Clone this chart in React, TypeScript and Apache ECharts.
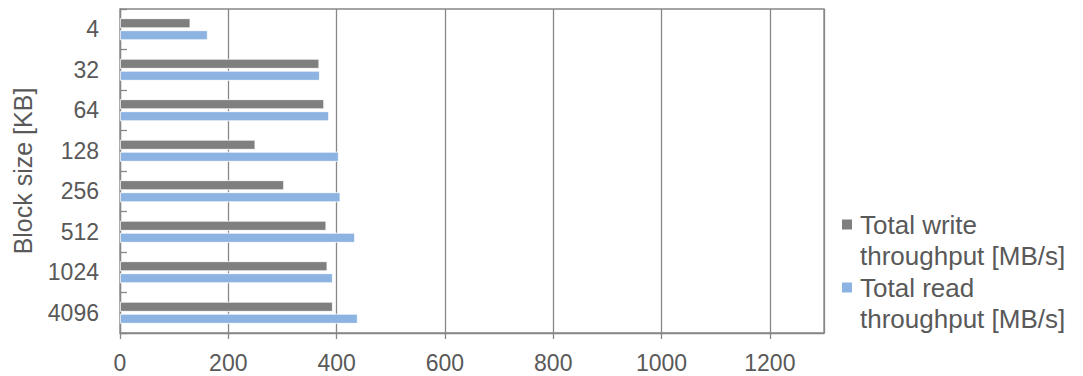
import React, { useEffect, useRef } from "react";
import * as echarts from "echarts";

const categories = ["4", "32", "64", "128", "256", "512", "1024", "4096"];
const writeThroughput = [130, 368, 377, 250, 303, 381, 383, 393];
const readThroughput = [162, 369, 386, 404, 407, 434, 393, 439];
const seriesNames = ["Total write\nthroughput [MB/s]", "Total read\nthroughput [MB/s]"];

const GRAY = "#878787";
const TEXT = "#595959";

export default function App() {
  const ref = useRef<HTMLDivElement>(null);
  useEffect(() => {
    const chart = echarts.init(ref.current!, null, { renderer: "svg" });
    chart.setOption({
      animation: false,
      backgroundColor: "#ffffff",
      textStyle: { fontFamily: "Liberation Sans, Arial, sans-serif" },
      grid: {
        left: 120,
        top: 9,
        right: 259,
        bottom: 43,
        show: true,
        borderColor: GRAY,
        borderWidth: 1.3,
        containLabel: false,
      },
      legend: {
        orient: "vertical",
        left: 842,
        top: 209,
        padding: 0,
        itemWidth: 10,
        itemHeight: 41,
        itemGap: 1,
        icon: "path://M0 0H10V10H0Z M0 40.99H0.01V41H0Z",
        itemStyle: { borderWidth: 0 },
        textStyle: {
          fontSize: 26,
          color: TEXT,
          lineHeight: 31,
          padding: [0, 0, 0, 3],
        },
        data: seriesNames,
      },
      xAxis: {
        type: "value",
        min: 0,
        max: 1300,
        interval: 200,
        axisLine: { show: true, lineStyle: { color: GRAY, width: 1.3 } },
        axisTick: { show: true, length: 6, lineStyle: { color: GRAY, width: 1.3 } },
        splitLine: { show: true, lineStyle: { color: GRAY, width: 1.3 } },
        axisLabel: {
          fontSize: 23,
          color: TEXT,
          margin: 18,
          showMaxLabel: false,
          formatter: (v: number) => String(v),
        },
      },
      yAxis: {
        type: "category",
        inverse: true,
        data: categories,
        name: "Block size [KB]",
        nameLocation: "middle",
        nameGap: 85,
        nameTextStyle: { fontSize: 25, color: TEXT },
        axisLine: { show: true, lineStyle: { color: GRAY, width: 1.3 } },
        axisTick: { show: true, inside: true, length: 7, lineStyle: { color: GRAY, width: 1.3 } },
        axisLabel: { fontSize: 23, color: TEXT, margin: 21 },
      },
      series: [
        {
          name: seriesNames[0],
          type: "bar",
          data: writeThroughput,
          barWidth: 10,
          barGap: "20%",
          itemStyle: { color: "#7f7f7f", borderColor: "#ffffff", borderWidth: 0.8 },
        },
        {
          name: seriesNames[1],
          type: "bar",
          data: readThroughput,
          barWidth: 10,
          barGap: "20%",
          itemStyle: { color: "#8db3e2", borderColor: "#ffffff", borderWidth: 0.8 },
        },
      ],
    });
    return () => chart.dispose();
  }, []);
  return (
    <div
      ref={ref}
      style={{ position: "fixed", left: 0, top: 0, width: 1083, height: 376 }}
    />
  );
}
